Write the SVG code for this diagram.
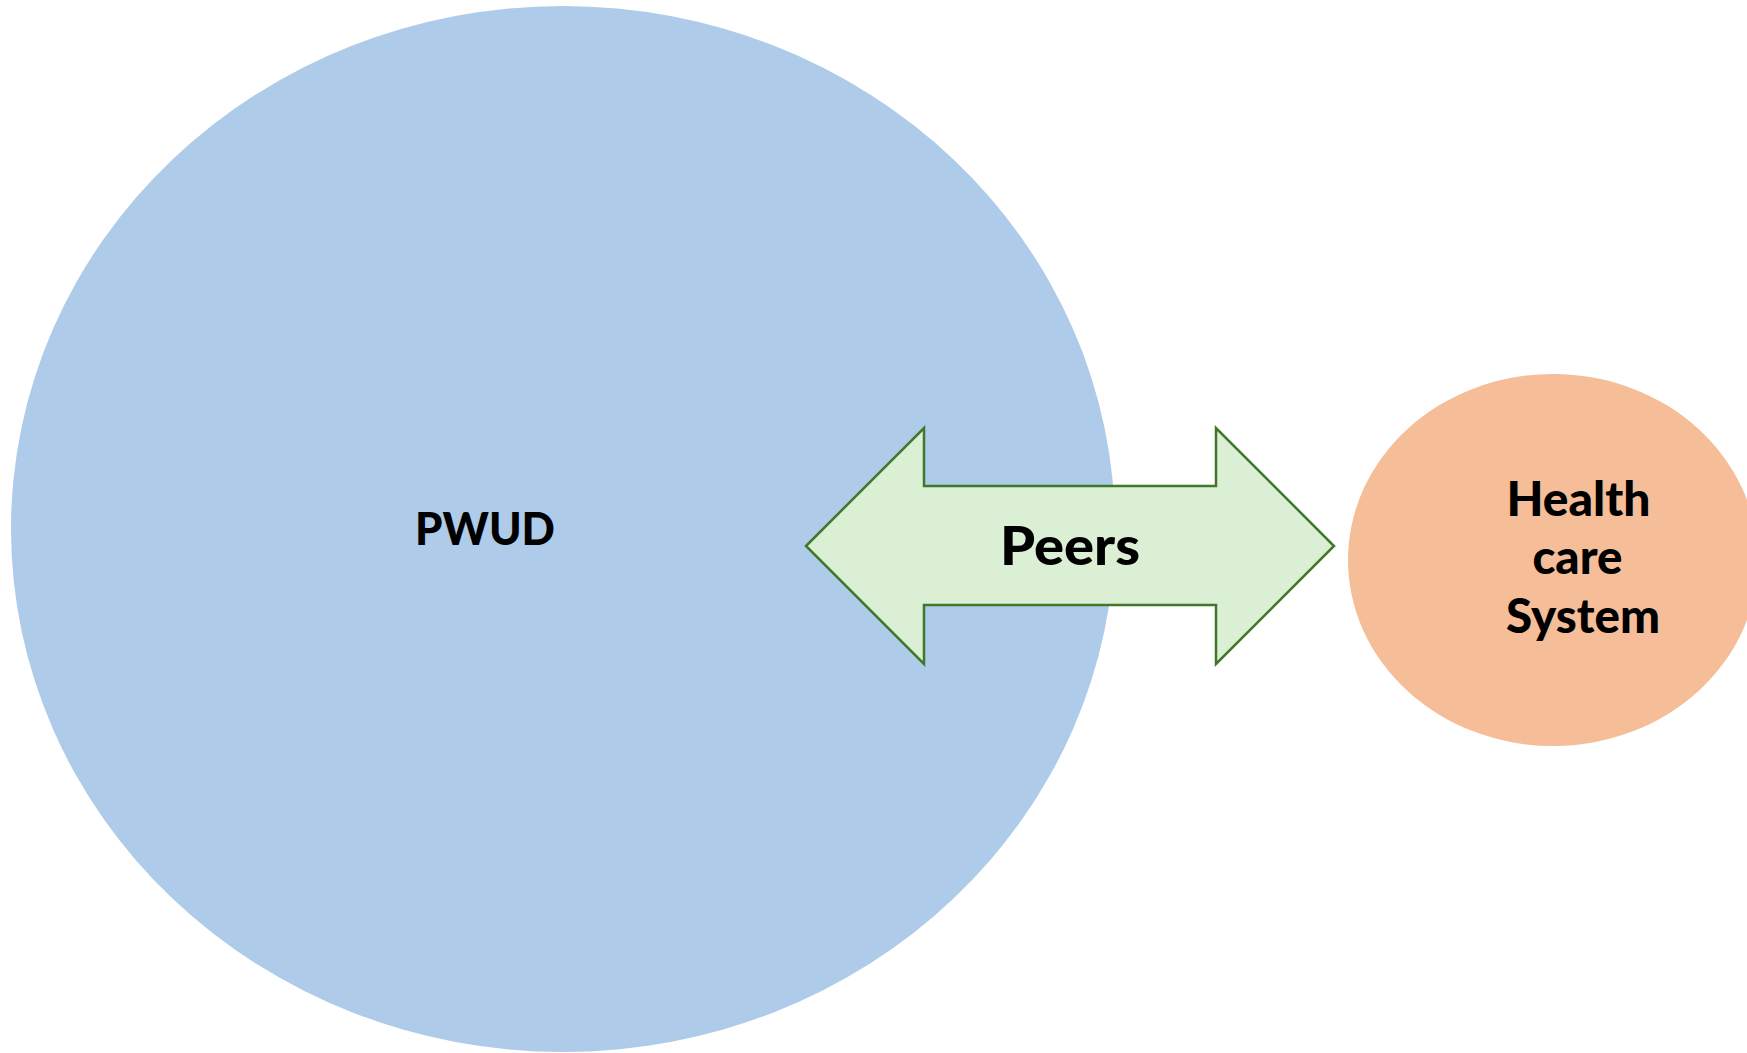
<svg xmlns="http://www.w3.org/2000/svg" width="1747" height="1053" viewBox="0 0 1747 1053">
<style>
.lbl{font-family:Lato,"Open Sans","Liberation Sans",sans-serif;font-weight:900;fill:#000;}
</style>
<rect width="1747" height="1053" fill="#ffffff"/>
<g id="pwud">
<ellipse cx="563" cy="529" rx="552" ry="523" fill="#AECCE9"/>
<text class="lbl" x="485" y="545" font-size="45" text-anchor="middle" textLength="140" lengthAdjust="spacingAndGlyphs">PWUD</text>
</g>
<g id="health">
<ellipse cx="1553" cy="560" rx="205" ry="186" fill="#F5BD98"/>
<text class="lbl" font-size="47" text-anchor="middle">
<tspan x="1584" y="516" textLength="144" lengthAdjust="spacingAndGlyphs">Health</tspan>
<tspan x="1583" y="574" textLength="90" lengthAdjust="spacingAndGlyphs">care</tspan>
<tspan x="1583" y="633" textLength="154" lengthAdjust="spacingAndGlyphs">System</tspan>
</text>
</g>
<g id="connectors">
<g id="peers">
<polygon points="806,546 924,428 924,486 1216,486 1216,428 1334,546 1216,664 1216,605 924,605 924,664" fill="#DBEFD4" stroke="#41772B" stroke-width="2.5" stroke-linejoin="miter"/>
<text class="lbl" x="1070" y="565" font-size="54" text-anchor="middle" textLength="140" lengthAdjust="spacingAndGlyphs">Peers</text>
</g>
</g>
</svg>
